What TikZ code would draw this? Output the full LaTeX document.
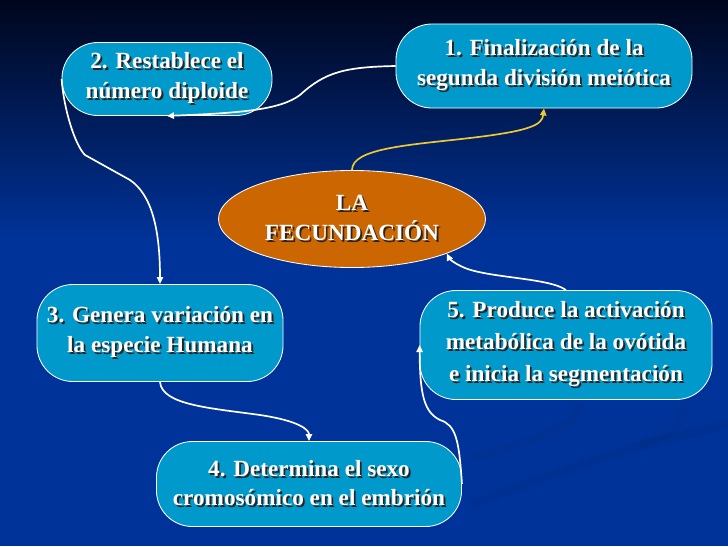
\documentclass[tikz,border=0pt]{standalone}
\usepackage{fontspec}
\setmainfont{Liberation Serif}
\usetikzlibrary{shapes.geometric}
\usetikzlibrary{arrows.meta}

\definecolor{bubble}{RGB}{0,153,204}
\definecolor{fecund}{RGB}{204,102,0}
\definecolor{bgtop}{RGB}{0,6,28}
\definecolor{bgblue}{RGB}{0,51,153}
\definecolor{gold}{RGB}{240,200,50}

% white text with a dark drop shadow
\newcommand{\shd}[1]{\leavevmode\rlap{\kern1.3pt\raisebox{-1.3pt}{\color{black!85}#1}}#1}

\begin{document}
\begin{tikzpicture}[x=0.025cm,y=-0.025cm,
  paso/.style={draw=white,line width=0.6pt,fill=bubble,rounded corners=0.9cm,
    align=center,text=white,inner sep=0pt,
    font=\bfseries\fontsize{16.5}{21}\selectfont},
  flecha/.style={white,line width=1.2pt,-{Triangle[length=5pt,width=4.5pt]}}]
  \useasboundingbox (0,0) rectangle (728,546);
  \fill[bgblue] (0,0) rectangle (728,546);
  \shade[top color=bgtop,bottom color=bgblue] (0,0) rectangle (728,240);
  % faint swoosh
  \draw[black,opacity=0.05,line width=7pt] (470,505) .. controls (560,470) and (650,440) .. (728,425);
  \draw[black,opacity=0.04,line width=6pt] (470,458) .. controls (540,440) and (590,420) .. (575,405);
  \draw[black,opacity=0.04,line width=6pt] (640,445) .. controls (680,430) and (690,415) .. (680,405);

  \node[paso,minimum width=7.4cm,minimum height=2.1cm] (fin) at (544,66)
    {\shd{1. Finalización de la}\\ \shd{segunda división meiótica}};
  \node[paso,minimum width=5.25cm,minimum height=1.825cm] (rest) at (167,79)
    {\shd{2. Restablece el}\\ \shd{número diploide}};
  \node[ellipse,draw=white,line width=0.6pt,fill=fecund,minimum width=6.675cm,
    minimum height=2.425cm,inner sep=0pt,align=center,text=white,
    font=\bfseries\fontsize{16.5}{21}\selectfont] (fecun) at (352,219)
    {\shd{LA}\\ \shd{FECUNDACIÓN}};
  \node[paso,minimum width=6.15cm,minimum height=2.425cm] (gen) at (160,333)
    {\shd{3. Genera variación en}\\ \shd{la especie Humana}};
  \node[paso,minimum width=7.3cm,minimum height=2.725cm,
    font=\bfseries\fontsize{16.5}{23}\selectfont] (prod) at (566,345)
    {\shd{5. Produce la activación}\\ \shd{metabólica de la ovótida}\\ \shd{e inicia la segmentación}};
  \node[paso,minimum width=7.625cm,minimum height=2.125cm] (det) at (309,484)
    {\shd{4. Determina el sexo}\\ \shd{cromosómico en el embrión}};

  \draw[flecha,gold] (fecun.north) .. controls (352,148) and (410,145) .. (470,138)
    .. controls (530,131) and (542,125) .. (fin.south);
  \draw[flecha] (fin.west) .. controls (345,67) and (325,72) .. (300,95)
    .. controls (280,110) and (240,113) .. (rest.south);
  \draw[flecha] (rest.west) .. controls (64,110) and (75,145) .. (85,155)
    -- (130,180) .. controls (152,195) and (160,230) .. (gen.north);
  \draw[flecha] (gen.south) .. controls (162,405) and (210,408) .. (260,415)
    .. controls (300,421) and (309,430) .. (det.north);
  \draw[flecha] (det.east) .. controls (459,440) and (456,425) .. (440,420)
    .. controls (424,412) and (420,395) .. (prod.west);
  \draw[flecha] (prod.north) .. controls (550,278) and (490,278) .. (465,268)
    .. controls (453,263) and (449,258) .. (fecun.-20);
\end{tikzpicture}
\end{document}
